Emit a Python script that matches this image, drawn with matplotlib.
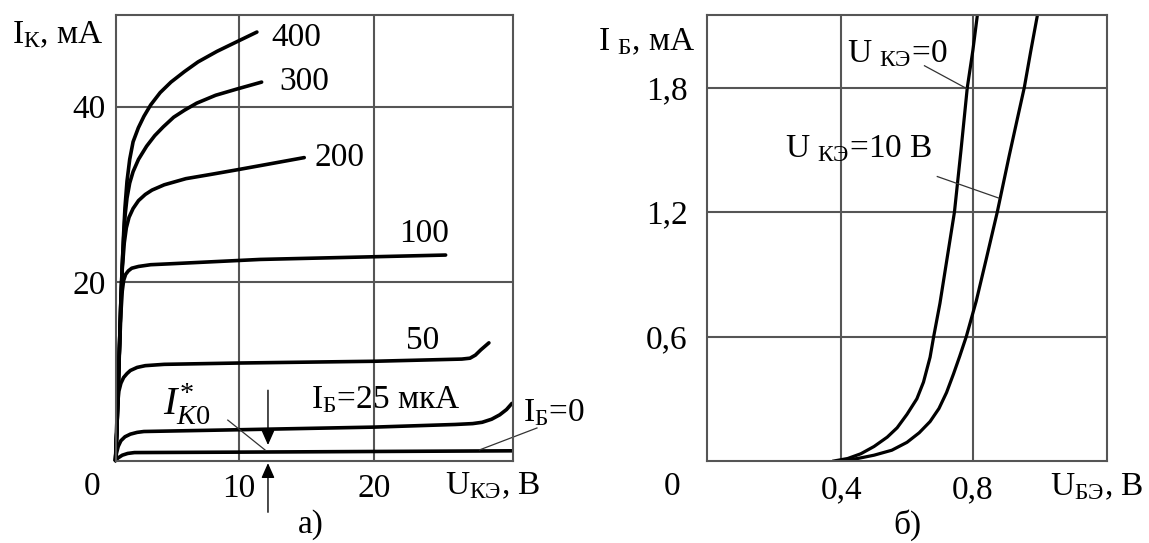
import matplotlib
matplotlib.use("Agg")
import matplotlib.pyplot as plt

plt.rcParams['font.family'] = ['Liberation Serif', 'DejaVu Serif']
plt.rcParams['mathtext.fontset'] = 'custom'
plt.rcParams['mathtext.rm'] = 'Liberation Serif'
plt.rcParams['mathtext.it'] = 'Liberation Serif:italic'
plt.rcParams['mathtext.bf'] = 'Liberation Serif:bold'

# --- а) выходные характеристики: U_КЭ (В), I_К (мА) для разных I_Б (мкА)
u400 = [0.9, 1.0, 1.1, 1.2, 1.3, 1.4, 1.5, 1.6, 1.75, 1.95, 2.2, 2.59, 3.0, 3.5, 4.2, 5.0, 6.0, 7.0, 8.4, 9.87, 11.35]
i400 = [-0.3, 3, 8, 13, 18, 22, 25.5, 28.5, 31.5, 34, 36, 37.6, 38.9, 40.2, 41.6, 42.8, 44.0, 45.1, 46.3, 47.4, 48.5]
u300 = [0.9, 1.0, 1.1, 1.2, 1.3, 1.4, 1.5, 1.6, 1.75, 1.95, 2.2, 2.6, 3.2, 3.8, 4.43, 5.2, 6.0, 6.9, 8.3, 9.85, 11.7]
i300 = [-0.3, 3, 8, 13, 18, 22, 25.0, 27.5, 29.6, 31.3, 32.6, 34.0, 35.5, 36.7, 37.7, 38.8, 39.6, 40.4, 41.3, 42.0, 42.8]
u200 = [0.9, 1.0, 1.1, 1.2, 1.3, 1.4, 1.55, 1.7, 1.9, 2.2, 2.6, 3.1, 3.6, 4.5, 6.1, 8.0, 9.85, 12.0, 14.85]
i200 = [-0.3, 3, 8, 13, 18, 21.5, 24.5, 26.2, 27.4, 28.4, 29.3, 30.0, 30.5, 31.1, 31.8, 32.3, 32.8, 33.4, 34.2]
u100 = [0.9, 1.0, 1.1, 1.2, 1.3, 1.4, 1.5, 1.65, 1.85, 2.1, 2.6, 3.5, 4.9, 11.6, 19.85, 25.3]
i100 = [-0.3, 3, 8, 12.5, 16.5, 19, 20.2, 20.9, 21.3, 21.6, 21.8, 22.0, 22.1, 22.6, 22.9, 23.1]
u50 = [0.9, 0.97, 1.05, 1.15, 1.3, 1.5, 1.75, 2.0, 2.5, 3.1, 4.5, 10, 20, 26.5, 27.1, 27.5, 27.9, 28.5]
i50 = [-0.3, 3, 6, 7.6, 8.5, 9.15, 9.6, 9.95, 10.3, 10.5, 10.65, 10.8, 11.0, 11.25, 11.35, 11.7, 12.3, 13.1]
u25 = [0.9, 0.97, 1.1, 1.3, 1.6, 2.0, 2.5, 3.0, 10, 20, 26, 27.3, 28.0, 28.7, 29.3, 29.8, 30.2]
i25 = [-0.3, 0.5, 1.3, 1.95, 2.4, 2.7, 2.9, 3.0, 3.2, 3.5, 3.8, 3.9, 4.05, 4.4, 4.9, 5.5, 6.2]
u0 = [0.9, 1.1, 1.4, 1.8, 2.3, 10, 30.2]
i0 = [-0.3, 0.0, 0.3, 0.5, 0.6, 0.65, 0.8]

out_curves = [(u400, i400), (u300, i300), (u200, i200), (u100, i100),
              (u50, i50), (u25, i25), (u0, i0)]
out_labels = ['400', '300', '200', '100', '50']
out_label_pos = [(14.3, 47.9), (14.85, 42.8), (17.45, 34.2), (23.7, 25.5), (23.6, 13.3)]

# --- б) входные характеристики: U_БЭ (В), I_Б (мА)
ube_0 = [0.378, 0.42, 0.46, 0.50, 0.54, 0.57, 0.60, 0.63, 0.65, 0.67, 0.681, 0.70, 0.72, 0.744, 0.764, 0.783, 0.80, 0.813]
ib_0 = [0.0, 0.012, 0.035, 0.07, 0.115, 0.16, 0.225, 0.30, 0.38, 0.50, 0.6, 0.76, 0.96, 1.2, 1.5, 1.8, 1.98, 2.142]
ube_10 = [0.39, 0.45, 0.50, 0.554, 0.60, 0.637, 0.67, 0.697, 0.72, 0.741, 0.76, 0.780, 0.81, 0.84, 0.874, 0.91, 0.935, 0.956, 0.975, 0.995]
ib_10 = [0.0, 0.012, 0.028, 0.052, 0.09, 0.136, 0.19, 0.253, 0.33, 0.419, 0.505, 0.6, 0.77, 0.97, 1.2, 1.47, 1.65, 1.8, 1.97, 2.142]

W, H = 1149, 543
fig = plt.figure(figsize=(W / 100, H / 100), dpi=100)

def ftxt(px, py, s, **kw):
    # подпись в пиксельных координатах (от левого верхнего угла)
    fig.text(px / W, 1 - py / H, s, **kw)

FS = 24
GRID = '#555555'

# ================= а) =================
ax1 = fig.add_axes([115.5 / W, 1 - 461 / H, (513 - 115.5) / W, (461 - 14.5) / H])
ax1.set_xlim(0.9, 30.28)
ax1.set_ylim(-0.36, 50.5)
ax1.set_xticks([10, 20], labels=['10', '20'])
ax1.set_yticks([20, 40], labels=['20', '40'])
ax1.tick_params(length=0, labelsize=FS)
ax1.tick_params(axis='x', pad=9)
ax1.tick_params(axis='y', pad=7)
ax1.grid(True, color=GRID, lw=1.5)
for s in ax1.spines.values():
    s.set_color(GRID)
    s.set_linewidth(1.5)

for u, i in out_curves:
    ax1.plot(u, i, color='black', lw=2.6, solid_joinstyle='round', solid_capstyle='round', clip_on=False)

for lab, (x, y) in zip(out_labels, out_label_pos):
    ax1.text(x, y, lab, fontsize=FS, ha='center', va='center')

ax1.text(20.9, 6.6, r'$\mathrm{I_{Б}}$=25 мкА', fontsize=FS, ha='center', va='center')
ax1.text(31.0, 5.1, r'$\mathrm{I_{Б}}$=0', fontsize=FS, ha='left', va='center', clip_on=False)
ax1.plot([27.8, 32.05], [0.9, 3.4], color='#333333', lw=0.9, clip_on=False)

ax1.text(4.4, 4.87, r'$I^{*}_{K0}$', fontsize=29, ha='left', va='baseline')
ax1.plot([9.2, 11.95], [4.3, 0.9], color='#333333', lw=0.9)

ax1.annotate('', xy=(12.17, 1.46), xytext=(12.17, 7.7),
             arrowprops=dict(arrowstyle='-|>,head_length=0.9,head_width=0.4',
                             color='black', lw=1.0, shrinkA=0, shrinkB=0),
             annotation_clip=False)
ax1.annotate('', xy=(12.17, -0.6), xytext=(12.17, -6.2),
             arrowprops=dict(arrowstyle='-|>,head_length=0.9,head_width=0.4',
                             color='black', lw=1.0, shrinkA=0, shrinkB=0),
             annotation_clip=False)

ftxt(12, 43, r'$\mathrm{I_{К}}$, мА', fontsize=FS, ha='left', va='baseline')
ftxt(92, 487, '0', fontsize=FS, ha='center', va='center')
ftxt(445, 494, r'$\mathrm{U_{КЭ}}$, В', fontsize=FS, ha='left', va='baseline')
ftxt(311, 525, 'а)', fontsize=FS, ha='center', va='center')

# ================= б) =================
ax2 = fig.add_axes([707 / W, 1 - 461 / H, (1107 - 707) / W, (461 - 14.5) / H])
ax2.set_xlim(-0.007, 1.207)
ax2.set_ylim(0, 2.152)
ax2.set_xticks([0.4, 0.8], labels=['0,4', '0,8'])
ax2.set_yticks([0.6, 1.2, 1.8], labels=['0,6', '1,2', '1,8'])
ax2.tick_params(length=0, labelsize=FS)
ax2.tick_params(axis='x', pad=10)
ax2.tick_params(axis='y', pad=14)
ax2.grid(True, color=GRID, lw=1.5)
for s in ax2.spines.values():
    s.set_color(GRID)
    s.set_linewidth(1.5)

ax2.plot(ube_0, ib_0, color='black', lw=2.3, solid_joinstyle='round')
ax2.plot(ube_10, ib_10, color='black', lw=2.3, solid_joinstyle='round')

ax2.text(0.417, 1.923, r'$\mathrm{U\ _{КЭ}}$=0', fontsize=FS, ha='left', va='baseline')
ax2.plot([0.653, 0.78], [1.905, 1.796], color='#333333', lw=0.9)
ax2.text(0.229, 1.463, r'$\mathrm{U\ _{КЭ}}$=10 В', fontsize=FS, ha='left', va='baseline')
ax2.plot([0.692, 0.879], [1.371, 1.267], color='#333333', lw=0.9)

ftxt(598, 50, r'$\mathrm{I\ _{Б}}$, мА', fontsize=FS, ha='left', va='baseline')
ftxt(672, 487, '0', fontsize=FS, ha='center', va='center')
ftxt(1050, 495, r'$\mathrm{U_{БЭ}}$, В', fontsize=FS, ha='left', va='baseline')
ftxt(907, 525, 'б)', fontsize=FS, ha='center', va='center')

fig.savefig('out.png', dpi=100)
